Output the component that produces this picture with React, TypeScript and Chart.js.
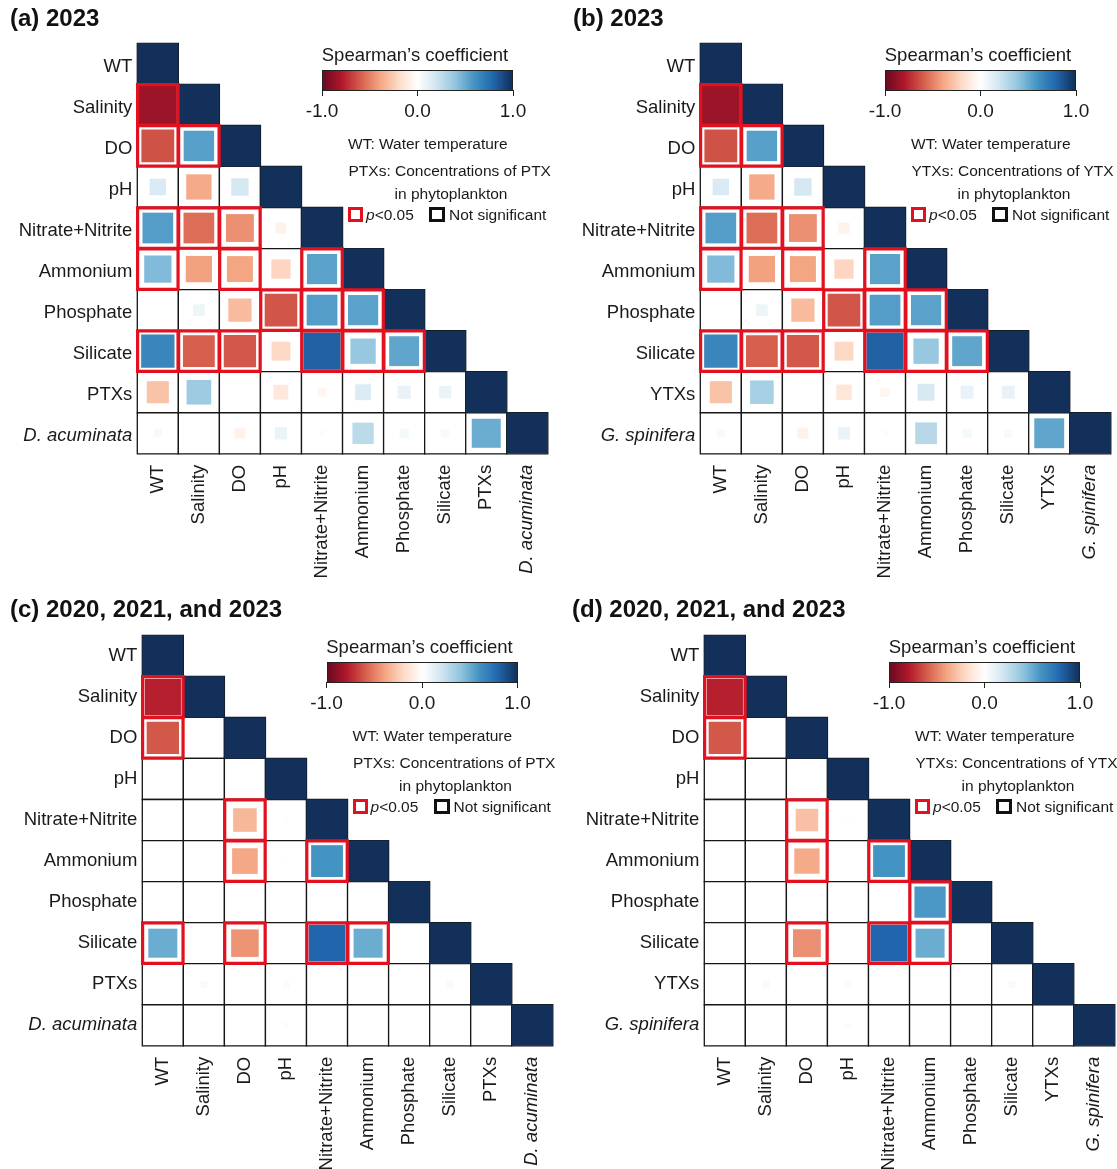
import React, { useEffect, useRef } from "react";
import { Chart, registerables } from "chart.js";

Chart.register(...registerables);

const FONT = '"Liberation Sans", Arial, Helvetica, sans-serif';
const INK = "#1a1a1a";
const SIG_RED = "#E3111F";

// Variables (row/column order of the lower-triangular matrices)
const ENV_VARS = ["WT", "Salinity", "DO", "pH", "Nitrate+Nitrite", "Ammonium", "Phosphate", "Silicate"];
const VARS_PTX = [...ENV_VARS, "PTXs", "D. acuminata"];
const VARS_YTX = [...ENV_VARS, "YTXs", "G. spinifera"];
const ITALIC_LABELS = ["D. acuminata", "G. spinifera"];

// corrplot-style RdBu palette, -1 -> 1
const RDBU = ["#6A0A20", "#B2182B", "#D6604D", "#F4A582", "#FDDBC7", "#FFFFFF", "#D1E5F0", "#92C5DE", "#4393C3", "#2166AC", "#12305A"];
const COLORBAR_TICKS = [-1, 0, 1];

// Spearman's rho, lower triangle; row i lists columns 0..i-1 (row 0 = WT has only its diagonal)
const RHO_A = [
  [-0.86],
  [-0.64, 0.55],
  [0.16, -0.38, 0.18],
  [0.56, -0.56, -0.46, -0.07],
  [0.44, -0.41, -0.4, -0.22, 0.54],
  [0.0, 0.08, -0.32, -0.63, 0.56, 0.54],
  [0.66, -0.6, -0.62, -0.21, 0.82, 0.38, 0.53],
  [-0.29, 0.36, 0.0, -0.13, -0.05, 0.15, 0.1, 0.09],
  [0.04, 0.0, -0.07, 0.09, -0.02, 0.27, 0.05, 0.04, 0.5],
];
const SIG_A = [
  [1],
  [1, 1],
  [0, 0, 0],
  [1, 1, 1, 0],
  [1, 0, 1, 0, 1],
  [0, 0, 0, 1, 1, 1],
  [1, 1, 1, 0, 1, 1, 1],
  [0, 0, 0, 0, 0, 0, 0, 0],
  [0, 0, 0, 0, 0, 0, 0, 0, 0],
];

const RHO_B = [
  [-0.86],
  [-0.64, 0.55],
  [0.16, -0.38, 0.18],
  [0.56, -0.56, -0.46, -0.07],
  [0.44, -0.41, -0.4, -0.22, 0.54],
  [0.0, 0.08, -0.32, -0.63, 0.56, 0.54],
  [0.66, -0.6, -0.62, -0.21, 0.82, 0.38, 0.53],
  [-0.29, 0.33, 0.0, -0.14, -0.05, 0.17, 0.1, 0.1],
  [0.04, 0.0, -0.07, 0.09, -0.02, 0.28, 0.05, 0.04, 0.53],
];
const SIG_B = [
  [1],
  [1, 1],
  [0, 0, 0],
  [1, 1, 1, 0],
  [1, 0, 1, 0, 1],
  [0, 0, 0, 1, 1, 1],
  [1, 1, 1, 0, 1, 1, 1],
  [0, 0, 0, 0, 0, 0, 0, 0],
  [0, 0, 0, 0, 0, 0, 0, 0, 0],
];

const RHO_C = [
  [-0.78],
  [-0.62, 0.0],
  [0.0, 0.0, 0.0],
  [0.0, 0.0, -0.33, -0.01],
  [0.0, 0.0, -0.39, 0.01, 0.6],
  [0.0, 0.0, 0.0, 0.0, 0.0, 0.0],
  [0.5, 0.0, -0.45, 0.0, 0.8, 0.5, 0.0],
  [0.0, 0.03, 0.0, -0.03, 0.0, 0.0, 0.0, 0.03],
  [0.0, 0.0, 0.0, 0.02, 0.0, 0.0, 0.0, 0.0, 0.0],
];
const SIG_C = [
  [1],
  [1, 0],
  [0, 0, 0],
  [0, 0, 1, 0],
  [0, 0, 1, 0, 1],
  [0, 0, 0, 0, 0, 0],
  [1, 0, 1, 0, 1, 1, 0],
  [0, 0, 0, 0, 0, 0, 0, 0],
  [0, 0, 0, 0, 0, 0, 0, 0, 0],
];

const RHO_D = [
  [-0.78],
  [-0.62, 0.0],
  [0.0, 0.0, 0.0],
  [0.0, 0.0, -0.3, -0.01],
  [0.0, 0.0, -0.38, 0.01, 0.6],
  [0.0, 0.0, 0.0, 0.0, 0.0, 0.58],
  [0.0, 0.0, -0.46, 0.0, 0.8, 0.5, 0.0],
  [0.0, 0.03, 0.0, -0.03, 0.0, 0.0, 0.0, 0.03],
  [0.0, 0.0, 0.0, 0.02, 0.0, 0.0, 0.0, 0.0, 0.0],
];
const SIG_D = [
  [1],
  [1, 0],
  [0, 0, 0],
  [0, 0, 1, 0],
  [0, 0, 1, 0, 1],
  [0, 0, 0, 0, 0, 1],
  [0, 0, 1, 0, 1, 1, 0],
  [0, 0, 0, 0, 0, 0, 0, 0],
  [0, 0, 0, 0, 0, 0, 0, 0, 0],
];

function hexToRgb(h: string) {
  const n = parseInt(h.slice(1), 16);
  return [(n >> 16) & 255, (n >> 8) & 255, n & 255];
}

function rdbu(v: number) {
  const t = ((Math.max(-1, Math.min(1, v)) + 1) / 2) * (RDBU.length - 1);
  const i = Math.min(Math.floor(t), RDBU.length - 2);
  const f = t - i;
  const a = hexToRgb(RDBU[i]);
  const b = hexToRgb(RDBU[i + 1]);
  const c = a.map((x, k) => Math.round(x + (b[k] - x) * f));
  return `rgb(${c[0]},${c[1]},${c[2]})`;
}

type Cell = { x: string; y: string; v: number };

function buildCells(vars: string[], rho: number[][], sig: number[][]) {
  const grid: Cell[] = [];
  const squares: Cell[] = [];
  const frames: Cell[] = [];
  vars.forEach((rowName, i) => {
    for (let j = 0; j <= i; j++) {
      const v = j === i ? 1 : rho[i - 1][j];
      grid.push({ x: vars[j], y: rowName, v });
      squares.push({ x: vars[j], y: rowName, v });
      if (j < i && sig[i - 1][j]) frames.push({ x: vars[j], y: rowName, v });
    }
  });
  return { grid, squares, frames };
}

const PANEL_W = 552;
const PANEL_H = 590;
const GRID_LEFT = 137.3;
const GRID_TOP = 43.3;
const GRID_SIZE = 410.5;

function cellSize(c: any) {
  const s = c.chart.scales.x;
  return Math.abs(s.getPixelForValue(1) - s.getPixelForValue(0));
}

function CorrChart({
  vars,
  rho,
  sig,
  rowLabelShift,
}: {
  vars: string[];
  rho: number[][];
  sig: number[][];
  rowLabelShift: number;
}) {
  const ref = useRef<HTMLCanvasElement>(null);
  useEffect(() => {
    const { grid, squares, frames } = buildCells(vars, rho, sig);
    const tickFont = (ctx: any) => {
      const label = ctx.tick && ctx.tick.label;
      const italic = ITALIC_LABELS.includes(label) || ctx.index === vars.length - 1;
      return { family: FONT, size: 18.5, style: italic ? "italic" : "normal" };
    };
    const axisBase = {
      type: "category" as const,
      labels: vars,
      offset: true,
      grid: { display: false, drawTicks: false },
      border: { display: false },
    };
    const chart = new Chart(ref.current!, {
      type: "scatter",
      data: {
        datasets: [
          {
            data: grid as any,
            order: 3,
            clip: false,
            pointStyle: "rect",
            pointRadius: (c: any) => cellSize(c) / Math.SQRT2,
            pointBackgroundColor: "#ffffff",
            pointBorderColor: "#161616",
            pointBorderWidth: 1.3,
          },
          {
            data: squares as any,
            order: 2,
            clip: false,
            pointStyle: "rect",
            pointRadius: (c: any) => (Math.sqrt(Math.abs(c.raw.v)) * cellSize(c)) / Math.SQRT2,
            pointBackgroundColor: (c: any) => rdbu(c.raw.v),
            pointBorderWidth: 0,
          },
          {
            data: frames as any,
            order: 1,
            clip: false,
            pointStyle: "rect",
            pointRadius: (c: any) => (cellSize(c) - 0.6) / Math.SQRT2,
            pointBackgroundColor: "rgba(0,0,0,0)",
            pointBorderColor: SIG_RED,
            pointBorderWidth: 3.2,
          },
        ],
      },
      options: {
        responsive: false,
        animation: false,
        devicePixelRatio: 1,
        events: [],
        layout: {
          padding: { left: 0, top: GRID_TOP, right: PANEL_W - GRID_LEFT - GRID_SIZE, bottom: 0 },
        },
        plugins: { legend: { display: false }, tooltip: { enabled: false } },
        scales: {
          x: {
            ...axisBase,
            position: "bottom",
            ticks: { autoSkip: false, minRotation: 90, maxRotation: 90, padding: 11, color: INK, font: tickFont },
            afterFit: (s: any) => {
              s.height = PANEL_H - GRID_TOP - GRID_SIZE;
              s.paddingLeft = 0;
              s.paddingRight = 0;
            },
          },
          y: {
            ...axisBase,
            position: "left",
            ticks: { autoSkip: false, padding: 5, labelOffset: rowLabelShift, color: INK, font: tickFont },
            afterFit: (s: any) => {
              s.width = GRID_LEFT;
              s.paddingTop = 0;
              s.paddingBottom = 0;
            },
          },
        } as any,
      },
    });
    return () => chart.destroy();
  }, [vars, rho, sig, rowLabelShift]);
  return <canvas ref={ref} width={PANEL_W} height={PANEL_H} style={{ position: "absolute", left: 0, top: 0 }} />;
}

function Txt({
  x,
  y,
  size,
  align = "left",
  bold = false,
  children,
}: {
  x: number;
  y: number;
  size: number;
  align?: "left" | "center";
  bold?: boolean;
  children: React.ReactNode;
}) {
  return (
    <div
      style={{
        position: "absolute",
        left: x,
        top: y - 0.4885 * size,
        fontFamily: FONT,
        fontSize: size,
        lineHeight: `${size}px`,
        fontWeight: bold ? 700 : 400,
        color: bold ? "#111" : INK,
        whiteSpace: "nowrap",
        transform: align === "center" ? "translateX(-50%)" : undefined,
      }}
    >
      {children}
    </div>
  );
}

function Legend({ toxin }: { toxin: string }) {
  const x0 = 322;
  const x1 = 513;
  return (
    <>
      <Txt x={415} y={55} size={18.5} align="center">
        Spearman’s coefficient
      </Txt>
      <div
        style={{
          position: "absolute",
          left: x0,
          top: 70,
          width: x1 - x0,
          height: 21,
          boxSizing: "border-box",
          border: "1px solid #222",
          background: `linear-gradient(to right, ${RDBU.join(", ")})`,
        }}
      />
      {COLORBAR_TICKS.map((t) => {
        const x = x0 + ((t + 1) / 2) * (x1 - x0);
        return (
          <React.Fragment key={t}>
            <div style={{ position: "absolute", left: x - 0.5, top: 90, width: 1, height: 6, background: "#222" }} />
            <Txt x={x} y={110} size={19} align="center">
              {t.toFixed(1)}
            </Txt>
          </React.Fragment>
        );
      })}
      <Txt x={348} y={144} size={15.5}>
        WT: Water temperature
      </Txt>
      <Txt x={348.5} y={170.5} size={15.5}>
        {`${toxin}s: Concentrations of ${toxin}`}
      </Txt>
      <Txt x={451} y={193.5} size={15.5} align="center">
        in phytoplankton
      </Txt>
      <div
        style={{
          position: "absolute",
          left: 348,
          top: 207,
          width: 15,
          height: 15,
          boxSizing: "border-box",
          border: `3px solid ${SIG_RED}`,
        }}
      />
      <Txt x={366} y={214.5} size={15.5}>
        <i>p</i>&lt;0.05
      </Txt>
      <div
        style={{
          position: "absolute",
          left: 429,
          top: 207,
          width: 16,
          height: 15,
          boxSizing: "border-box",
          border: "3px solid #111",
        }}
      />
      <Txt x={449} y={214.5} size={15.5}>
        Not significant
      </Txt>
    </>
  );
}

function Panel({
  left,
  top,
  vars,
  rho,
  sig,
  toxin,
  rowLabelShift,
}: {
  left: number;
  top: number;
  vars: string[];
  rho: number[][];
  sig: number[][];
  toxin: string;
  rowLabelShift: number;
}) {
  return (
    <div style={{ position: "absolute", left, top, width: PANEL_W, height: PANEL_H }}>
      <CorrChart vars={vars} rho={rho} sig={sig} rowLabelShift={rowLabelShift} />
      <Legend toxin={toxin} />
    </div>
  );
}

export default function App() {
  return (
    <div
      style={{
        position: "absolute",
        left: 0,
        top: 0,
        width: 1117,
        height: 1169,
        overflow: "hidden",
        background: "#ffffff",
      }}
    >
      <Panel left={0} top={0} vars={VARS_PTX} rho={RHO_A} sig={SIG_A} toxin="PTX" rowLabelShift={3} />
      <Panel left={563} top={0} vars={VARS_YTX} rho={RHO_B} sig={SIG_B} toxin="YTX" rowLabelShift={3} />
      <Panel left={4.5} top={592} vars={VARS_PTX} rho={RHO_C} sig={SIG_C} toxin="PTX" rowLabelShift={0} />
      <Panel left={567} top={592} vars={VARS_YTX} rho={RHO_D} sig={SIG_D} toxin="YTX" rowLabelShift={0} />
      <Txt x={10} y={18} size={24} bold>
        (a) 2023
      </Txt>
      <Txt x={573} y={18} size={24} bold>
        (b) 2023
      </Txt>
      <Txt x={10} y={609} size={24} bold>
        (c) 2020, 2021, and 2023
      </Txt>
      <Txt x={572} y={609} size={24} bold>
        (d) 2020, 2021, and 2023
      </Txt>
    </div>
  );
}
